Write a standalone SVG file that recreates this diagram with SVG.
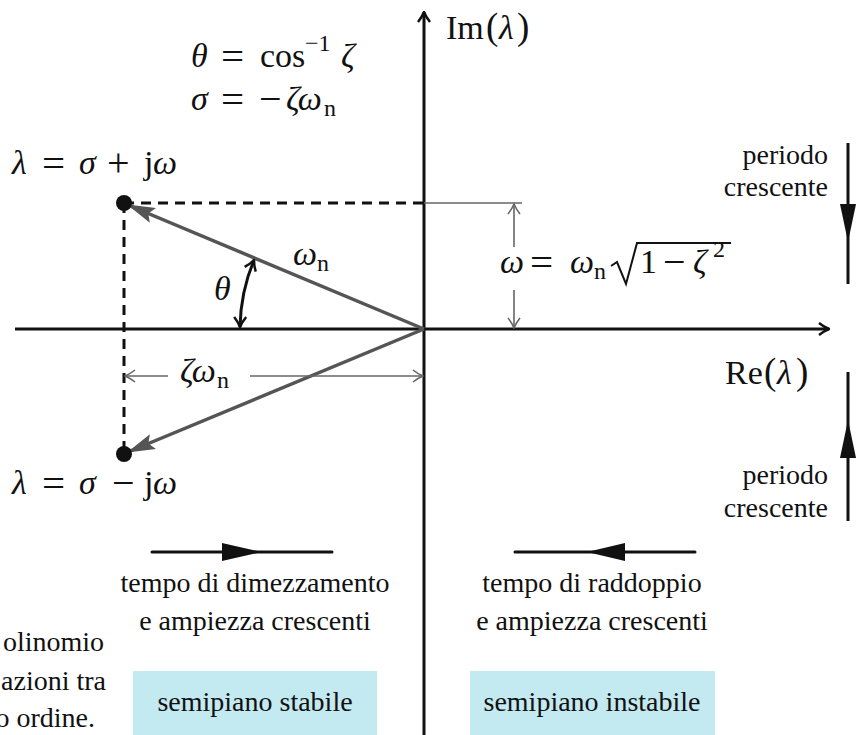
<svg xmlns="http://www.w3.org/2000/svg" width="863" height="735" viewBox="0 0 863 735">
<style>
text{font-family:"Liberation Serif","Times New Roman",serif;font-size:28px;fill:#111}
.m{font-size:34px}
.i{font-style:italic}
.s{font-size:24px}
.op{font-size:41px}
.pm{font-size:40px}
.mid{text-anchor:middle}
.end{text-anchor:end}
.ax{stroke:#111;stroke-width:3;fill:none}
.dash{stroke:#111;stroke-width:3;stroke-dasharray:10 7;fill:none}
.vec{stroke:#555;stroke-width:3.5;fill:none}
.dim{stroke:#666;stroke-width:1.6;fill:none}
.box{fill:#c3e9f1}
</style>
<defs>
<marker id="vhead" viewBox="0 0 28 16" refX="27" refY="8" markerWidth="28" markerHeight="16" markerUnits="userSpaceOnUse" orient="auto">
<path d="M0,0 L28,8 L0,16 L5,8 Z" fill="#555"/>
</marker>
<marker id="open" viewBox="0 0 12 14" refX="11" refY="7" markerWidth="12" markerHeight="14" markerUnits="userSpaceOnUse" orient="auto-start-reverse">
<path d="M1,1 Q6,5 11,7 Q6,9 1,13" fill="none" stroke="#111" stroke-width="2.5"/>
</marker>
<marker id="dopen" viewBox="0 0 12 14" refX="11" refY="7" markerWidth="12" markerHeight="14" markerUnits="userSpaceOnUse" orient="auto-start-reverse">
<path d="M1,1 Q6,5 11,7 Q6,9 1,13" fill="none" stroke="#666" stroke-width="1.6"/>
</marker>
</defs>

<g id="regions">
<rect class="box" x="133" y="671" width="244" height="64"/>
<rect class="box" x="470" y="671" width="245" height="64"/>
</g>

<g id="axes">
<line class="ax" x1="424" y1="735" x2="424" y2="12" marker-end="url(#open)"/>
<line class="ax" x1="15" y1="329" x2="829" y2="329" marker-end="url(#open)"/>
<text class="m" y="39"><tspan x="446">Im</tspan><tspan x="486" font-size="37">(</tspan><tspan x="499" class="i">λ</tspan><tspan x="517" font-size="37">)</tspan></text>
<text class="m" y="384"><tspan x="725">Re</tspan><tspan x="764" font-size="37">(</tspan><tspan x="777" class="i">λ</tspan><tspan x="796" font-size="37">)</tspan></text>
</g>

<g id="connectors">
<line class="dash" x1="124" y1="203" x2="424" y2="203"/>
<line class="dash" x1="124" y1="203" x2="124" y2="454"/>
<line class="vec" x1="424" y1="329" x2="128" y2="205" marker-end="url(#vhead)"/>
<line class="vec" x1="424" y1="329" x2="128" y2="452" marker-end="url(#vhead)"/>
<path class="ax" d="M254,260 A184,184 0 0 0 240,327" marker-start="url(#open)" marker-end="url(#open)"/>
<line class="dim" x1="424" y1="203" x2="522" y2="203"/>
<line class="dim" x1="514" y1="204" x2="514" y2="247" marker-start="url(#dopen)"/>
<line class="dim" x1="514" y1="290" x2="514" y2="328" marker-end="url(#dopen)"/>
<line class="dim" x1="125" y1="376" x2="168" y2="376" marker-start="url(#dopen)"/>
<line class="dim" x1="250" y1="376" x2="423" y2="376" marker-end="url(#dopen)"/>
</g>

<g id="poles">
<circle cx="124" cy="203" r="8" fill="#111"/>
<circle cx="124" cy="454" r="8" fill="#111"/>
<text class="m" y="174"><tspan x="12" class="i">λ</tspan><tspan x="42" class="op" y="177">=</tspan><tspan x="79" y="174" class="i">σ</tspan><tspan x="107" class="pm" y="176">+</tspan><tspan x="144" y="174">j</tspan><tspan x="153" class="i">ω</tspan></text>
<text class="m" y="494"><tspan x="12" class="i">λ</tspan><tspan x="42" class="op" y="497">=</tspan><tspan x="79" y="494" class="i">σ</tspan><tspan x="112" class="pm" y="496">−</tspan><tspan x="144" y="494">j</tspan><tspan x="153" class="i">ω</tspan></text>
</g>

<g id="formulas">
<text class="m" y="67"><tspan x="191" class="i">θ</tspan><tspan x="221" class="op" y="70">=</tspan><tspan x="260" y="67">cos</tspan><tspan x="305" y="51" class="s">−1</tspan><tspan x="341" y="67" class="i">ζ</tspan></text>
<text class="m" y="110"><tspan x="191" class="i">σ</tspan><tspan x="221" class="op" y="113">=</tspan><tspan x="259" class="pm" y="112">−</tspan><tspan x="286" y="110" class="i">ζω</tspan><tspan x="324" y="116" class="s">n</tspan></text>
<text class="m" y="265"><tspan x="293" class="i">ω</tspan><tspan x="317" y="271" class="s">n</tspan></text>
<text class="m i" x="214" y="300">θ</text>
<text class="m" y="382"><tspan x="180" class="i">ζω</tspan><tspan x="217" y="388" class="s">n</tspan></text>
<text class="m" y="273"><tspan x="500" class="i">ω</tspan><tspan x="530" class="op" y="276">=</tspan><tspan x="570" y="273" class="i">ω</tspan><tspan x="594" y="279" class="s">n</tspan><tspan x="640" y="273">1</tspan><tspan x="663" class="pm" y="275">−</tspan><tspan x="693" y="273" class="i">ζ</tspan><tspan x="713" y="257" class="s">2</tspan></text>
<path d="M611,266 L617,262 L626,284 L637,243 L731,243" fill="none" stroke="#111" stroke-width="2"/>
</g>

<g id="period-up">
<line class="ax" x1="848" y1="143" x2="848" y2="284"/>
<path d="M840,204 L856,204 L848,242 Z" fill="#111"/>
<text class="end" x="828" y="164">periodo</text>
<text class="end" x="828" y="196">crescente</text>
</g>

<g id="period-down">
<line class="ax" x1="848" y1="372" x2="848" y2="521"/>
<path d="M840,458 L856,458 L848,420 Z" fill="#111"/>
<text class="end" x="828" y="484">periodo</text>
<text class="end" x="828" y="517">crescente</text>
</g>

<g id="stable-arrow">
<line class="ax" x1="152" y1="552" x2="332" y2="552" stroke-linecap="round"/>
<path d="M222,543 L262,552 L222,561 Z" fill="#111"/>
<text class="mid" x="255" y="592">tempo di dimezzamento</text>
<text class="mid" x="255" y="630">e ampiezza crescenti</text>
</g>

<g id="unstable-arrow">
<line class="ax" x1="515" y1="552" x2="695" y2="552" stroke-linecap="round"/>
<path d="M625,543 L587,552 L625,561 Z" fill="#111"/>
<text class="mid" x="592" y="592">tempo di raddoppio</text>
<text class="mid" x="592" y="630">e ampiezza crescenti</text>
</g>

<g id="labels">
<text class="mid" x="255" y="711">semipiano stabile</text>
<text class="mid" x="592" y="711">semipiano instabile</text>
<text class="end" x="104" y="651">olinomio</text>
<text class="end" x="106" y="690">azioni tra</text>
<text class="end" x="95" y="727">o ordine.</text>
</g>
</svg>
